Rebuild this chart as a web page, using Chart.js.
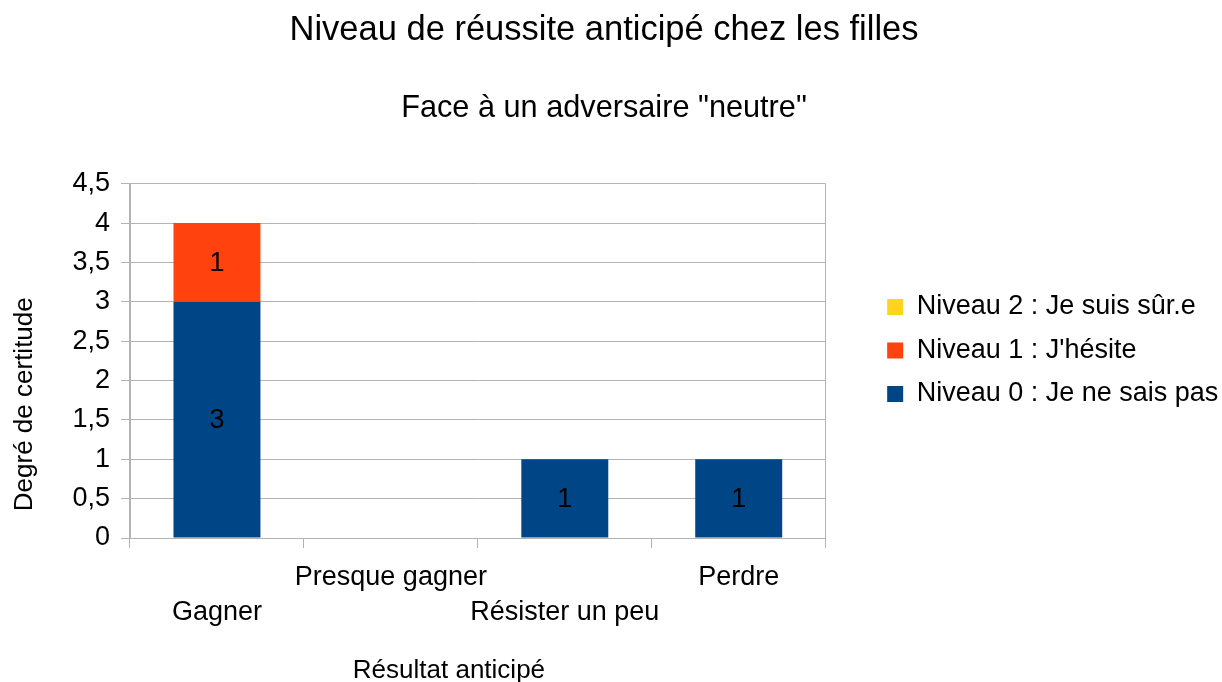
<!DOCTYPE html>
<html lang="fr">
<head>
<meta charset="utf-8">
<title>Niveau de réussite anticipé chez les filles</title>
<script src="https://cdn.jsdelivr.net/npm/chart.js@4/dist/chart.umd.min.js"></script>
<style>
  html, body { margin: 0; padding: 0; background: #fff; }
  #wrap { width: 1222px; height: 682px; position: relative; }
</style>
</head>
<body>
<div id="wrap"><canvas id="chart"></canvas></div>
<script>
// categories and values
const categories = [['', 'Gagner'], 'Presque gagner', ['', 'Résister un peu'], 'Perdre'];
const niveau0 = [3, 0, 1, 1];
const niveau1 = [1, 0, 0, 0];
const niveau2 = [0, 0, 0, 0];
const seriesNames = ['Niveau 0 : Je ne sais pas', 'Niveau 1 : J\'hésite', 'Niveau 2 : Je suis sûr.e'];
const seriesColors = ['#004586', '#ff420e', '#ffd320'];
const yTicks = [0, 0.5, 1, 1.5, 2, 2.5, 3, 3.5, 4, 4.5];

const gridGray = '#b3b3b3';
const fontFamily = '"Liberation Sans", Arial, sans-serif';
Chart.defaults.font.family = fontFamily;
Chart.defaults.color = '#000';

// numbers written in the middle of each bar segment
const valueLabels = {
    id: 'valueLabels',
    afterDatasetsDraw(chart) {
        const ctx = chart.ctx;
        ctx.save();
        ctx.font = '27px ' + fontFamily;
        ctx.fillStyle = '#000';
        ctx.textAlign = 'center';
        ctx.textBaseline = 'middle';
        chart.data.datasets.forEach((ds, i) => {
            const meta = chart.getDatasetMeta(i);
            meta.data.forEach((bar, j) => {
                const v = ds.data[j];
                if (!v) return;
                ctx.fillText(String(v).replace('.', ','), bar.x, (bar.y + bar.base) / 2 + 1);
            });
        });
        ctx.restore();
    }
};

// move the legend block to where LibreOffice put it
const legendPlace = {
    id: 'legendPlace',
    afterLayout(chart) {
        const lg = chart.legend;
        lg.left = chart.chartArea.right + 45;
        lg.right = chart.width;
        lg.top = 19;
        lg.bottom = chart.height;
    }
};

const ctx = document.getElementById('chart');
new Chart(ctx, {
    type: 'bar',
    data: {
        labels: categories,
        datasets: [
            { label: seriesNames[0], data: niveau0, backgroundColor: seriesColors[0] },
            { label: seriesNames[1], data: niveau1, backgroundColor: seriesColors[1] },
            { label: seriesNames[2], data: niveau2, backgroundColor: seriesColors[2] }
        ]
    },
    options: {
        responsive: true,
        maintainAspectRatio: false,
        animation: false,
        devicePixelRatio: 1,
        datasets: {
            bar: { categoryPercentage: 1, barPercentage: 0.5, borderWidth: 0 }
        },
        layout: { padding: { left: 0, right: 14, top: 0, bottom: 0 } },
        plugins: {
            title: {
                display: true,
                text: 'Niveau de réussite anticipé chez les filles',
                font: { size: 34.5, weight: 'normal' },
                color: '#000',
                padding: { top: 10, bottom: 39 }
            },
            subtitle: {
                display: true,
                text: 'Face à un adversaire "neutre"',
                font: { size: 30.7, weight: 'normal' },
                color: '#000',
                padding: { top: 0, bottom: 56.5 }
            },
            legend: {
                position: 'right',
                reverse: true,
                labels: {
                    boxWidth: 16,
                    boxHeight: 16,
                    padding: 16.5,
                    font: { size: 27 },
                    color: '#000'
                }
            },
            tooltip: { enabled: false }
        },
        scales: {
            x: {
                stacked: true,
                grid: {
                    offset: true,
                    drawOnChartArea: true,
                    color: c => (c.index === 0 || c.index === undefined) ? gridGray : 'rgba(0,0,0,0)',
                    tickColor: gridGray,
                    tickLength: 10
                },
                border: { display: true, color: gridGray },
                ticks: {
                    autoSkip: false,
                    maxRotation: 0,
                    padding: 11.5,
                    font: { size: 27, lineHeight: 1.3 },
                    color: '#000'
                },
                title: {
                    display: true,
                    text: 'Résultat anticipé' + '\u00a0'.repeat(8),
                    font: { size: 26, lineHeight: 0.85 },
                    color: '#000',
                    padding: { top: 20, bottom: 0 }
                },
                afterFit(axis) { axis.height = 144; }
            },
            y: {
                stacked: true,
                min: 0,
                max: 4.5,
                afterBuildTicks(axis) { axis.ticks = yTicks.map(v => ({ value: v })); },
                grid: { color: gridGray, tickColor: gridGray, tickLength: 9 },
                border: { display: true, color: gridGray },
                ticks: {
                    padding: 11,
                    font: { size: 27 },
                    color: '#000',
                    callback: v => String(v).replace('.', ',')
                },
                title: {
                    display: true,
                    text: 'Degré de certitude' + '\u00a0'.repeat(12),
                    font: { size: 26 },
                    color: '#000',
                    padding: { top: 9, bottom: 0 }
                },
                afterFit(axis) { axis.width = 130; }
            },
            // empty right-hand axis, only there to reserve the gap before the legend
            spacer: {
                type: 'linear',
                position: 'right',
                display: true,
                grid: { display: false },
                border: { display: false },
                ticks: { display: false },
                afterFit(axis) { axis.width = 181; }
            }
        }
    },
    plugins: [valueLabels, legendPlace]
});
</script>
</body>
</html>
